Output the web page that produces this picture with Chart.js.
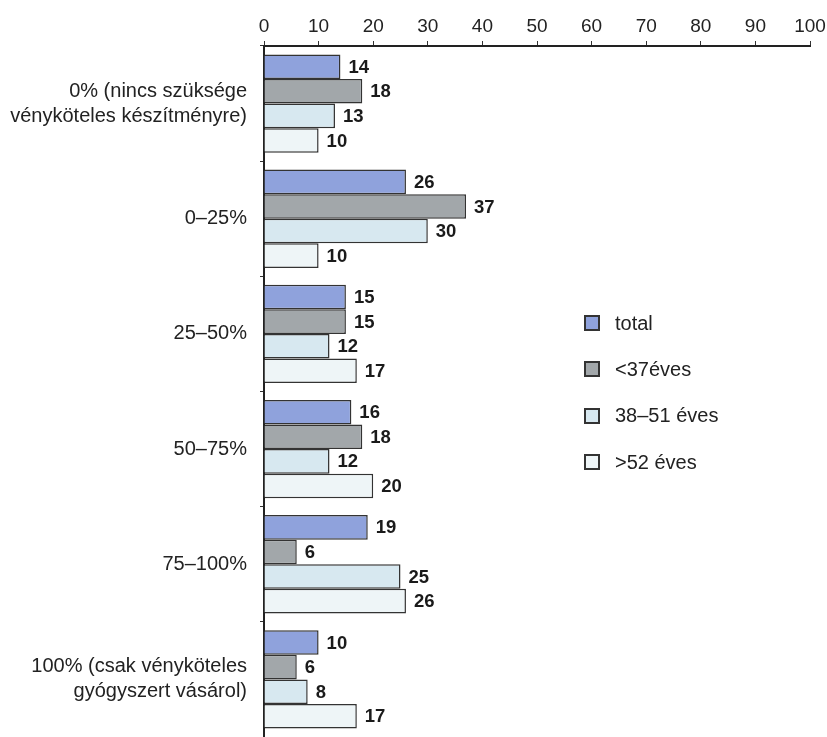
<!DOCTYPE html>
<html>
<head>
<meta charset="utf-8">
<script src="https://cdn.jsdelivr.net/npm/chart.js@4"></script>
<style>
  html, body { margin: 0; padding: 0; background: #fff; overflow: hidden; }
  #wrap { position: relative; width: 827px; height: 737px; overflow: hidden; }
  canvas { display: block; }
  #legend { position: absolute; left: 584px; top: 300px; font-family: "Liberation Sans", Arial, sans-serif; font-size: 20px; color: #222; }
  #legend .item { display: flex; align-items: center; height: 46.3px; }
  #legend .box { width: 16px; height: 16px; border: 2px solid #333; margin-right: 15px; box-sizing: border-box; }
</style>
</head>
<body>
<div id="wrap">
  <canvas id="c" width="827" height="737"></canvas>
  <div id="legend"></div>
</div>
<script>
// Share of spending on prescription drugs, by age group (%)
const categories = [
  ["0% (nincs szüksége", "vényköteles készítményre)"],
  "0–25%",
  "25–50%",
  "50–75%",
  "75–100%",
  ["100% (csak vényköteles", "gyógyszert vásárol)"]
];
const seriesNames = ["total", "<37éves", "38–51 éves", ">52 éves"];
const totalValues = [14, 26, 15, 16, 19, 10];
const under37Values = [18, 37, 15, 18, 6, 6];
const age38to51Values = [13, 30, 12, 12, 25, 8];
const over52Values = [10, 10, 17, 20, 26, 17];
const xTicks = [0, 10, 20, 30, 40, 50, 60, 70, 80, 90, 100];

const colors = ["#8fa2dc", "#a2a7aa", "#d7e8f0", "#eef5f7"];
const seriesValues = [totalValues, under37Values, age38to51Values, over52Values];

const FONT = '"Liberation Sans", Arial, sans-serif';

// Bold value labels to the right of each bar
const valueLabels = {
  id: 'valueLabels',
  afterDatasetsDraw(chart) {
    const ctx = chart.ctx;
    ctx.save();
    ctx.font = 'bold 18.5px ' + FONT;
    ctx.fillStyle = '#1a1a1a';
    ctx.textBaseline = 'middle';
    ctx.textAlign = 'left';
    chart.data.datasets.forEach((ds, i) => {
      const meta = chart.getDatasetMeta(i);
      meta.data.forEach((bar, j) => {
        ctx.fillText(String(ds.data[j]), bar.x + 8, bar.y + 1);
      });
    });
    ctx.restore();
  }
};

const chart = new Chart(document.getElementById('c'), {
  type: 'bar',
  data: {
    labels: categories,
    datasets: seriesNames.map((name, i) => ({
      label: name,
      data: seriesValues[i],
      backgroundColor: colors[i],
      borderColor: '#333',
      borderWidth: 1.5,
      borderSkipped: 'left',
      categoryPercentage: 0.854,
      barPercentage: 1.0
    }))
  },
  options: {
    indexAxis: 'y',
    responsive: false,
    animation: false,
    layout: { padding: { left: 0, right: 17, top: 0, bottom: -4 } },
    plugins: {
      legend: { display: false },
      tooltip: { enabled: false }
    },
    scales: {
      x: {
        position: 'top',
        min: 0,
        max: 100,
        afterBuildTicks(scale) { scale.ticks = xTicks.map(v => ({ value: v })); },
        afterFit(scale) { scale.height = 46; scale.paddingLeft = 0; scale.paddingRight = 0; },
        ticks: {
          font: { family: FONT, size: 19 },
          color: '#222',
          padding: 3
        },
        grid: { drawOnChartArea: false, drawTicks: true, tickLength: 5, color: '#333', lineWidth: 1 },
        border: { display: true, color: '#222', width: 2 }
      },
      y: {
        afterFit(scale) { scale.width = 264; scale.paddingTop = 0; scale.paddingBottom = 0; },
        ticks: {
          font: { family: FONT, size: 20, lineHeight: 1.25 },
          color: '#222',
          padding: 13
        },
        grid: { drawOnChartArea: false, drawTicks: true, tickLength: 4, offset: true, color: '#333' },
        border: { display: true, color: '#222', width: 2 }
      }
    }
  },
  plugins: [valueLabels]
});

// Legend built from the datasets
const legendEl = document.getElementById('legend');
chart.data.datasets.forEach(ds => {
  const item = document.createElement('div');
  item.className = 'item';
  const box = document.createElement('span');
  box.className = 'box';
  box.style.background = ds.backgroundColor;
  const txt = document.createElement('span');
  txt.textContent = ds.label;
  item.appendChild(box);
  item.appendChild(txt);
  legendEl.appendChild(item);
});
</script>
</body>
</html>
